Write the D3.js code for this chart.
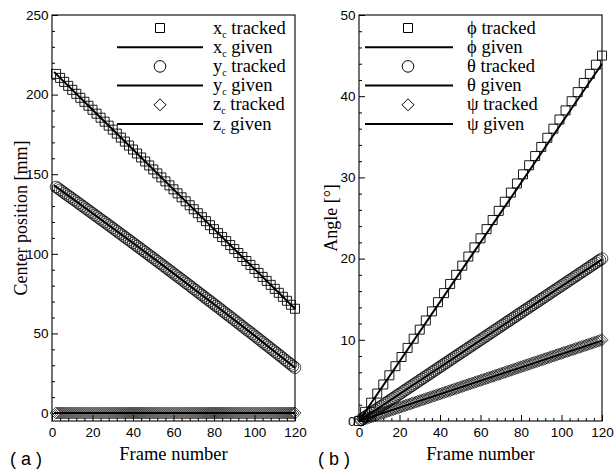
<!DOCTYPE html>
<html><head><meta charset="utf-8">
<script src="https://cdn.jsdelivr.net/npm/d3@7"></script>
<style>body{margin:0;background:#fff}text{white-space:pre}</style>
</head><body><svg id="c" width="614" height="475"></svg>
<script>
// ---------- DATA (panel a) ----------
const framesA = d3.range(2, 121);     // frame numbers 2..120
const xcFrames = d3.range(2, 121, 2); // x_c markers every other frame
const xcTracked = [
213.0,210.5,208.0,205.5,203.0,200.5,198.0,195.5,193.0,190.5,
188.0,185.5,183.0,180.5,178.0,175.5,173.0,170.5,168.0,165.5,
163.0,160.5,158.0,155.5,153.0,150.5,148.0,145.5,143.0,140.5,
138.0,135.5,133.0,130.5,128.0,125.5,123.0,120.5,118.0,115.5,
113.0,110.5,108.0,105.5,103.0,100.5,98.0,95.5,93.0,90.5,
88.0,85.5,83.0,80.5,78.0,75.5,73.0,70.5,68.0,65.5];
const ycTracked = [
142.0,141.1,140.2,139.3,138.3,137.4,136.5,135.6,134.7,133.8,
132.9,131.9,131.0,130.1,129.2,128.2,127.3,126.4,125.5,124.5,
123.6,122.7,121.7,120.8,119.9,119.0,118.0,117.1,116.2,115.2,
114.3,113.3,112.4,111.5,110.5,109.6,108.6,107.7,106.8,105.8,
104.9,103.9,103.0,102.0,101.1,100.1,99.2,98.2,97.3,96.3,
95.4,94.4,93.5,92.5,91.5,90.6,89.6,88.7,87.7,86.7,
85.8,84.8,83.9,82.9,81.9,81.0,80.0,79.0,78.0,77.1,
76.1,75.1,74.2,73.2,72.2,71.2,70.3,69.3,68.3,67.3,
66.4,65.4,64.4,63.4,62.4,61.4,60.5,59.5,58.5,57.5,
56.5,55.5,54.5,53.5,52.5,51.6,50.6,49.6,48.6,47.6,
46.6,45.6,44.6,43.6,42.6,41.6,40.6,39.6,38.6,37.6,
36.6,35.6,34.6,33.5,32.5,31.5,30.5,29.5,28.5];
const zcTracked = [
0,0,0,0,0,0,0,0,0,0,0,0,0,0,0,0,0,0,0,0,0,0,0,0,0,0,0,0,0,0,
0,0,0,0,0,0,0,0,0,0,0,0,0,0,0,0,0,0,0,0,0,0,0,0,0,0,0,0,0,0,
0,0,0,0,0,0,0,0,0,0,0,0,0,0,0,0,0,0,0,0,0,0,0,0,0,0,0,0,0,0,
0,0,0,0,0,0,0,0,0,0,0,0,0,0,0,0,0,0,0,0,0,0,0,0,0,0,0,0,0];
const givenFramesA = [1, 20, 40, 60, 80, 100, 120];
const xcGiven = [214.3, 190.5, 165.5, 140.5, 115.5, 90.5, 65.5];
const ycGiven = [143.0, 125.5, 106.8, 87.7, 68.3, 48.6, 28.5];
const zcGiven = [0, 0, 0, 0, 0, 0, 0];

// ---------- DATA (panel b) ----------
const phiFrames = d3.range(0, 121, 3);
const phiTracked = [0,1.13,2.25,3.38,4.5,5.63,6.75,7.88,9.0,10.13,11.25,12.38,13.5,14.63,15.75,16.88,
18.0,19.13,20.25,21.38,22.5,23.63,24.75,25.88,27.0,28.13,29.25,30.38,31.5,32.63,33.75,34.88,
36.0,37.13,38.25,39.38,40.5,41.63,42.75,43.88,45.0];
const framesB = d3.range(1, 121);
const thetaTracked = [
0.17,0.33,0.50,0.67,0.83,1.00,1.17,1.33,1.50,1.67,1.83,2.00,
2.17,2.33,2.50,2.67,2.83,3.00,3.17,3.33,3.50,3.67,3.83,4.00,
4.17,4.33,4.50,4.67,4.83,5.00,5.17,5.33,5.50,5.67,5.83,6.00,
6.17,6.33,6.50,6.67,6.83,7.00,7.17,7.33,7.50,7.67,7.83,8.00,
8.17,8.33,8.50,8.67,8.83,9.00,9.17,9.33,9.50,9.67,9.83,10.00,
10.17,10.33,10.50,10.67,10.83,11.00,11.17,11.33,11.50,11.67,11.83,12.00,
12.17,12.33,12.50,12.67,12.83,13.00,13.17,13.33,13.50,13.67,13.83,14.00,
14.17,14.33,14.50,14.67,14.83,15.00,15.17,15.33,15.50,15.67,15.83,16.00,
16.17,16.33,16.50,16.67,16.83,17.00,17.17,17.33,17.50,17.67,17.83,18.00,
18.17,18.33,18.50,18.67,18.83,19.00,19.17,19.33,19.50,19.67,19.83,20.00];
const psiTracked = [
0.08,0.17,0.25,0.33,0.42,0.50,0.58,0.67,0.75,0.83,0.92,1.00,
1.08,1.17,1.25,1.33,1.42,1.50,1.58,1.67,1.75,1.83,1.92,2.00,
2.08,2.17,2.25,2.33,2.42,2.50,2.58,2.67,2.75,2.83,2.92,3.00,
3.08,3.17,3.25,3.33,3.42,3.50,3.58,3.67,3.75,3.83,3.92,4.00,
4.08,4.17,4.25,4.33,4.42,4.50,4.58,4.67,4.75,4.83,4.92,5.00,
5.08,5.17,5.25,5.33,5.42,5.50,5.58,5.67,5.75,5.83,5.92,6.00,
6.08,6.17,6.25,6.33,6.42,6.50,6.58,6.67,6.75,6.83,6.92,7.00,
7.08,7.17,7.25,7.33,7.42,7.50,7.58,7.67,7.75,7.83,7.92,8.00,
8.08,8.17,8.25,8.33,8.42,8.50,8.58,8.67,8.75,8.83,8.92,9.00,
9.08,9.17,9.25,9.33,9.42,9.50,9.58,9.67,9.75,9.83,9.92,10.00];
const givenFramesB = [0, 120];
const phiGiven = [0, 44.0];
const thetaGiven = [0, 19.9];
const psiGiven = [0, 9.9];

// ---------- TICKS / LABELS ----------
const xMajor = [0, 20, 40, 60, 80, 100, 120];
const xMinor = d3.range(0, 121, 4).filter(v => v % 20 !== 0);
const yMajorA = [0, 50, 100, 150, 200, 250];
const yMinorA = d3.range(0, 251, 10).filter(v => v % 50 !== 0);
const yMajorB = [0, 10, 20, 30, 40, 50];
const yMinorB = d3.range(0, 51, 2).filter(v => v % 10 !== 0);
const legendA = [["x", "c", " tracked"], ["x", "c", " given"], ["y", "c", " tracked"], ["y", "c", " given"], ["z", "c", " tracked"], ["z", "c", " given"]];
const legendB = [["ϕ", "", " tracked"], ["ϕ", "", " given"], ["θ", "", " tracked"], ["θ", "", " given"], ["ψ", "", " tracked"], ["ψ", "", " given"]];

// ---------- DRAWING ----------
const svg = d3.select("#c");
const SANS = "'Liberation Sans', Arial, Helvetica, sans-serif";
const SERIF = "'Liberation Serif', 'Times New Roman', Times, serif";
const TOP = 15, BOTTOM = 421;

const markers = {
  square: "M-4.5,-4.5H4.5V4.5H-4.5Z",
  circle: d3.symbol().type(d3.symbolCircle).size(Math.PI * 5.8 * 5.8)(),
  diamond: "M0,-6L6,0L0,6L-6,0Z"
};

function panel(o) {
  const x = d3.scaleLinear().domain([0, 120]).range([o.x0, o.x1]);
  const y = d3.scaleLinear().domain(o.yDom).range([BOTTOM, TOP]);
  const g = svg.append("g");

  const tickStyle = sel => {
    sel.select(".domain").remove();
    sel.selectAll("line").attr("stroke", "#000").attr("stroke-width", 1);
    sel.selectAll("text").attr("fill", "#000").attr("font-family", SANS).attr("font-size", 13.5);
  };
  g.append("g").attr("transform", `translate(0,${BOTTOM})`)
    .call(d3.axisBottom(x).tickValues(xMajor).tickSize(-6).tickPadding(6).tickFormat(d3.format("d"))).call(tickStyle);
  g.append("g").attr("transform", `translate(0,${BOTTOM})`)
    .call(d3.axisBottom(x).tickValues(xMinor).tickSize(-3).tickFormat(() => "")).call(tickStyle);
  g.append("g").attr("transform", `translate(${o.x0},0)`)
    .call(d3.axisLeft(y).tickValues(o.yMajor).tickSize(-6).tickPadding(3.5).tickFormat(d3.format("d"))).call(tickStyle);
  g.append("g").attr("transform", `translate(${o.x0},0)`)
    .call(d3.axisLeft(y).tickValues(o.yMinor).tickSize(-3).tickFormat(() => "")).call(tickStyle);

  g.append("rect").attr("x", o.x0).attr("y", TOP).attr("width", o.x1 - o.x0).attr("height", BOTTOM - TOP)
    .attr("fill", "none").attr("stroke", "#000").attr("stroke-width", 1.1);

  const line = d3.line().x(d => x(d[0])).y(d => y(d[1]));
  o.series.forEach(s => {
    g.append("g").selectAll("path").data(s.frames.map((f, i) => [f, s.tracked[i]])).join("path")
      .attr("d", markers[s.marker])
      .attr("transform", d => `translate(${x(d[0])},${y(d[1])})`)
      .attr("fill", "none").attr("stroke", "#000").attr("stroke-width", s.sw);
  });
  o.series.forEach(s => {
    g.append("path").datum(s.gFrames.map((f, i) => [f, s.given[i]]))
      .attr("d", line).attr("fill", "none").attr("stroke", "#000").attr("stroke-width", 2);
  });

  // legend
  o.legend.forEach((item, i) => {
    const ry = 28 + i * 19.2;
    if (i % 2 === 0) {
      g.append("path").attr("d", markers[o.series[i / 2].marker])
        .attr("transform", `translate(${o.lgMark},${ry})`)
        .attr("fill", "none").attr("stroke", "#000").attr("stroke-width", 1);
    } else {
      g.append("line").attr("x1", o.lgL0).attr("x2", o.lgL1).attr("y1", ry).attr("y2", ry)
        .attr("stroke", "#000").attr("stroke-width", 2);
    }
    const t = g.append("text").attr("x", o.lgText).attr("y", ry + 5.5)
      .attr("font-family", SERIF).attr("font-size", 18.5).attr("fill", "#000");
    t.append("tspan").text(item[0]);
    if (item[1]) {
      t.append("tspan").attr("font-size", 10).attr("dy", 4).text(item[1]);
      t.append("tspan").attr("dy", -4).text(item[2]);
    } else {
      t.append("tspan").text(item[2]);
    }
  });

  // axis titles
  g.append("text").attr("x", (o.x0 + o.x1) / 2).attr("y", 460).attr("text-anchor", "middle")
    .attr("font-family", SERIF).attr("font-size", 18.5).text("Frame number");
  g.append("text").attr("transform", `translate(${o.yLabX},${(TOP + BOTTOM) / 2}) rotate(-90)`)
    .attr("text-anchor", "middle").attr("font-family", SERIF).attr("font-size", 18).text(o.yTitle);
  g.append("text").attr("x", o.tagX).attr("y", 465).attr("font-family", SANS).attr("font-size", 18).text(o.tag);
}

panel({
  x0: 52, x1: 295, yDom: [-5, 250], yMajor: yMajorA, yMinor: yMinorA,
  series: [
    { frames: xcFrames, tracked: xcTracked, gFrames: givenFramesA, given: xcGiven, marker: "square", sw: 0.9 },
    { frames: framesA, tracked: ycTracked, gFrames: givenFramesA, given: ycGiven, marker: "circle", sw: 0.7 },
    { frames: framesA, tracked: zcTracked, gFrames: givenFramesA, given: zcGiven, marker: "diamond", sw: 0.7 }
  ],
  legend: legendA, lgMark: 160, lgL0: 117, lgL1: 203, lgText: 213,
  yTitle: "Center position [mm]", yLabX: 27, tag: "( a )", tagX: 10
});
panel({
  x0: 359, x1: 602, yDom: [0, 50], yMajor: yMajorB, yMinor: yMinorB,
  series: [
    { frames: phiFrames, tracked: phiTracked, gFrames: givenFramesB, given: phiGiven, marker: "square", sw: 0.9 },
    { frames: framesB, tracked: thetaTracked, gFrames: givenFramesB, given: thetaGiven, marker: "circle", sw: 0.7 },
    { frames: framesB, tracked: psiTracked, gFrames: givenFramesB, given: psiGiven, marker: "diamond", sw: 0.7 }
  ],
  legend: legendB, lgMark: 408, lgL0: 365, lgL1: 453, lgText: 467,
  yTitle: "Angle [°]", yLabX: 337, tag: "( b )", tagX: 318
});
</script>
</body></html>
